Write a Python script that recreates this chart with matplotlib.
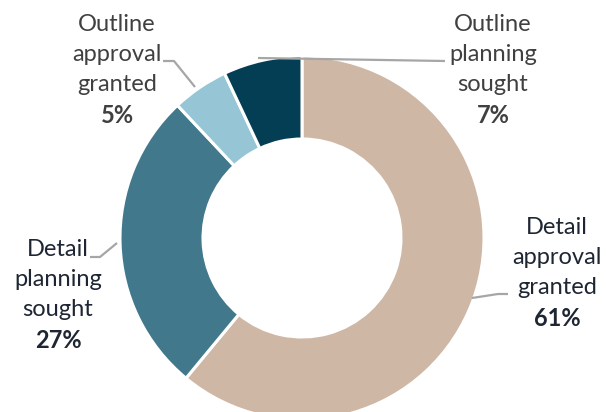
import matplotlib
matplotlib.use("Agg")
import matplotlib.pyplot as plt

# Planning status shares (percent), clockwise from 12 o'clock
categories = ["Detail approval granted", "Detail planning sought",
              "Outline approval granted", "Outline planning sought"]
label_lines = [["Detail", "approval", "granted"],
               ["Detail", "planning", "sought"],
               ["Outline", "approval", "granted"],
               ["Outline", "planning", "sought"]]
values = [61, 27, 5, 7]
colors = ["#CFB7A6", "#41788C", "#96C6D6", "#043E54"]

W, H = 606, 412
fig = plt.figure(figsize=(W / 100, H / 100), dpi=100)
ax = fig.add_axes([0, 0, 1, 1])

cx, cy = 302, H - 238
R = 182
ring = 83

ax.pie(values, colors=colors, startangle=90, counterclock=False,
       radius=R, center=(cx, cy),
       wedgeprops=dict(width=ring, edgecolor="white", linewidth=2.2))

ax.set_xlim(0, W)
ax.set_ylim(0, H)
ax.set_aspect("equal")
ax.axis("off")

plt.rcParams["font.family"] = ["Lato", "DejaVu Sans"]

# label layout: (x centre, y of first line in pixels from top, text colour)
label_pos = [(557, 227, "#1E2633"),
             (58, 250, "#1E2633"),
             (117, 24, "#404040"),
             (493, 24, "#404040")]
line_step = 30
fs = 17

for lines, val, (lx, ly, tc) in zip(label_lines, values, label_pos):
    for i, s in enumerate(lines):
        ax.text(lx, H - (ly + i * line_step), s, ha="center", va="center",
                fontsize=fs, color=tc)
    ax.text(lx, H - (ly + len(lines) * line_step + 1), f"{val}%",
            ha="center", va="center", fontsize=fs, fontweight="bold", color=tc)

# leader lines (pixel coords from top-left)
leaders = [[(472, 298), (498, 294), (508, 294)],
           [(90, 257), (100, 257), (117, 243)],
           [(163, 61), (174, 61), (195, 87)],
           [(258, 58), (445, 61)]]
for pts in leaders:
    xs = [p[0] for p in pts]
    ys = [H - p[1] for p in pts]
    ax.plot(xs, ys, color="#A6A6A6", lw=1.6, zorder=5, solid_capstyle="butt")

fig.savefig("out.png", dpi=100)
